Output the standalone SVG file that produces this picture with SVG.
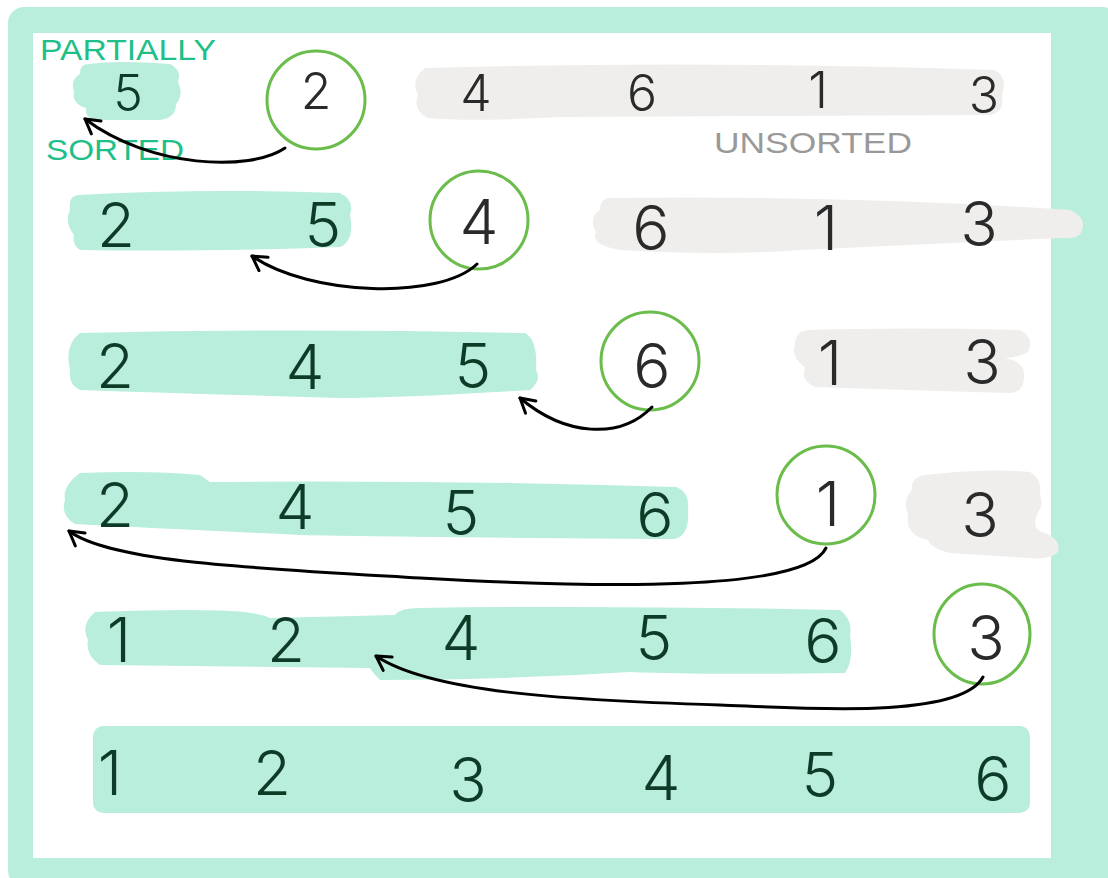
<svg xmlns="http://www.w3.org/2000/svg" width="1108" height="878" viewBox="0 0 1108 878">
<style>
.mint{fill:#BAEEDC}
.gray{fill:#EFEEEC}
.key{fill:none;stroke:#6ABD4B;stroke-width:3}
.d{font-family:Inter,"Open Sans","Liberation Sans",sans-serif;font-weight:300;font-size:62px;text-anchor:middle}
.s{fill:#0E3B28}
.u{fill:#2A2A2A}
.r1{font-size:50px}
.lbl{font-family:"Liberation Sans",Arial,sans-serif;font-size:30px}
.arrow{fill:none;stroke:#000;stroke-width:3;stroke-linecap:round;marker-end:url(#chev)}
</style>
<defs>
<marker id="chev" viewBox="0 0 20 20" refX="17" refY="10" markerWidth="20" markerHeight="20" markerUnits="userSpaceOnUse" orient="auto">
<path d="M3,2 L17,10 L3,18" fill="none" stroke="#000" stroke-width="3" stroke-linecap="round" stroke-linejoin="round"/>
</marker>
</defs>
<g id="frame">
<rect x="8" y="7" width="1110" height="880" rx="16" fill="#BAEEDC"/>
<rect x="33" y="33" width="1018" height="825" fill="#FFFFFF"/>
</g>
<g id="labels">
<text class="lbl" x="40" y="60" fill="#1FBF8A" textLength="176" lengthAdjust="spacingAndGlyphs">PARTIALLY</text>
<text class="lbl" x="46" y="160" fill="#1FBF8A" textLength="138" lengthAdjust="spacingAndGlyphs">SORTED</text>
<text class="lbl" x="714" y="153" fill="#999999" textLength="198" lengthAdjust="spacingAndGlyphs">UNSORTED</text>
</g>
<g id="row1-sorted">
<path class="mint" d="M88,64 Q120,60 170,64 Q182,70 178,82 Q184,95 176,104 Q176,118 160,120 L95,120 Q85,118 86,108 Q72,104 74,92 Q70,80 80,74 Q80,64 88,64 Z"/>
<text class="d r1 s" x="128" y="111">5</text>
</g>
<g id="row1-key">
<circle class="key" cx="316" cy="100" r="49"/>
<text class="d r1 u" x="316" y="109">2</text>
</g>
<g id="row1-unsorted">
<path class="gray" d="M425,68 Q700,60 995,70 Q1008,78 1002,95 Q1005,112 990,115 L560,117 Q470,122 428,118 Q412,110 418,95 Q410,80 425,68 Z"/>
<text class="d r1 u" x="476" y="111">4</text>
<text class="d r1 u" x="642" y="111">6</text>
<text class="d r1 u" x="818" y="108">1</text>
<text class="d r1 u" x="984" y="113">3</text>
</g>
<g id="row2-sorted">
<path class="mint" d="M78,195 Q200,188 340,193 Q355,200 350,215 Q355,240 340,247 Q200,252 80,250 Q72,245 74,235 Q64,222 70,210 Q68,196 78,195 Z"/>
<text class="d s" x="116" y="247">2</text>
<text class="d s" x="323" y="247">5</text>
</g>
<g id="row2-key">
<circle class="key" cx="479" cy="220" r="49"/>
<text class="d u" x="479" y="244">4</text>
</g>
<g id="row2-unsorted">
<path class="gray" d="M610,198 Q850,195 1070,210 Q1087,218 1082,230 Q1080,240 1060,238 L800,250 Q720,256 620,250 Q590,245 596,232 Q588,218 600,210 Q600,198 610,198 Z"/>
<text class="d u" x="651" y="250">6</text>
<text class="d u" x="826" y="250">1</text>
<text class="d u" x="979" y="246">3</text>
</g>
<g id="row3-sorted">
<path class="mint" d="M80,333 Q300,328 525,333 Q538,340 536,370 Q542,380 530,390 Q400,398 340,398 Q200,394 80,390 Q68,385 70,370 Q64,345 80,333 Z"/>
<text class="d s" x="115" y="388">2</text>
<text class="d s" x="305" y="389">4</text>
<text class="d s" x="473" y="388">5</text>
</g>
<g id="row3-key">
<circle class="key" cx="650" cy="361" r="49"/>
<text class="d u" x="652" y="388">6</text>
</g>
<g id="row3-unsorted">
<path class="gray" d="M810,330 Q900,327 1020,330 Q1035,338 1028,352 Q1020,357 1005,358 Q1025,362 1024,375 Q1025,392 1010,393 Q900,390 815,387 Q800,380 805,368 Q790,355 795,345 Q795,330 810,330 Z"/>
<text class="d u" x="830" y="385">1</text>
<text class="d u" x="982" y="384">3</text>
</g>
<g id="row4-sorted">
<path class="mint" d="M80,473 Q150,470 200,475 L210,482 Q450,480 676,487 Q690,492 688,510 Q690,535 675,539 Q400,537 300,535 Q150,528 75,524 Q60,515 65,500 Q62,486 80,473 Z"/>
<text class="d s" x="115" y="527">2</text>
<text class="d s" x="295" y="529">4</text>
<text class="d s" x="461" y="535">5</text>
<text class="d s" x="655" y="537">6</text>
</g>
<g id="row4-key">
<circle class="key" cx="826" cy="495" r="49"/>
<text class="d u" x="828" y="526">1</text>
</g>
<g id="row4-unsorted">
<path class="gray" d="M925,475 Q990,468 1030,472 Q1042,478 1040,495 Q1044,505 1038,512 Q1030,530 1045,533 Q1062,540 1058,552 Q1050,560 1030,558 L950,553 Q930,548 928,540 Q905,535 908,515 Q902,500 912,490 Q910,478 925,475 Z"/>
<text class="d u" x="980" y="537">3</text>
</g>
<g id="row5-sorted">
<path class="mint" d="M95,612 Q200,608 245,612 Q265,615 270,618 L395,615 Q400,608 420,608 Q600,605 840,610 Q853,620 850,635 Q854,660 845,673 Q700,675 630,672 Q500,680 380,680 Q372,672 370,668 L100,665 Q85,655 88,640 Q80,625 95,612 Z"/>
<text class="d s" x="119" y="662">1</text>
<text class="d s" x="286" y="662">2</text>
<text class="d s" x="461" y="660">4</text>
<text class="d s" x="654" y="660">5</text>
<text class="d s" x="823" y="663">6</text>
</g>
<g id="row5-key">
<ellipse class="key" cx="982" cy="634" rx="48" ry="50"/>
<text class="d u" x="986" y="660">3</text>
</g>
<g id="row6-result">
<rect class="mint" x="93" y="726" width="937" height="87" rx="10"/>
<text class="d s" x="110" y="795">1</text>
<text class="d s" x="272" y="795">2</text>
<text class="d s" x="468" y="802">3</text>
<text class="d s" x="661" y="800">4</text>
<text class="d s" x="820" y="797">5</text>
<text class="d s" x="993" y="801">6</text>
</g>
<g id="connectors">
<path class="arrow" d="M285,148 C250,172 150,168 85,119"/>
<path class="arrow" d="M477,264 C440,300 310,296 252,256"/>
<path class="arrow" d="M652,407 C620,440 565,436 520,398"/>
<path class="arrow" d="M826,548 C805,592 600,588 420,578 C250,568 110,562 69,531"/>
<path class="arrow" d="M983,677 C960,720 800,708 720,705 C560,700 430,692 376,656"/>
</g>
</svg>
